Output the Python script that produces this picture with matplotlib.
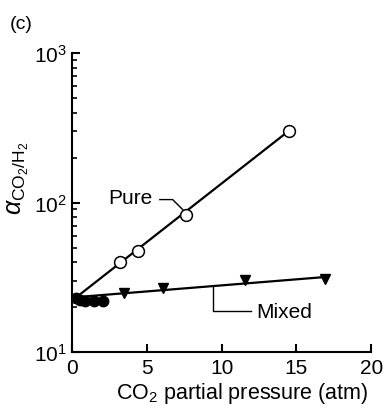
import matplotlib
matplotlib.use('Agg')
import matplotlib.pyplot as plt
import numpy as np

plt.rcParams['font.family'] = ['Liberation Sans', 'DejaVu Sans']
plt.rcParams['mathtext.fontset'] = 'custom'
plt.rcParams['mathtext.rm'] = 'Liberation Sans'
plt.rcParams['mathtext.it'] = 'Liberation Sans:italic'
plt.rcParams['mathtext.default'] = 'regular'

# ── Data ──────────────────────────────────────────────────────────────────────
pure_x = [3.2, 4.4, 7.65, 14.5]
pure_y = [39.8, 47.3, 82.8, 302]
pure_fit_x = [0.3, 14.5]
pure_fit_y = [23.3, 302]

mixed_x = [3.5, 6.1, 11.6, 16.9]
mixed_y = [25.0, 27.0, 30.2, 31.0]
mixed_fit_x = [0.3, 17.0]
mixed_fit_y = [23.3, 31.8]

low_x = [0.3, 0.55, 0.85, 1.45, 2.1]
low_y = [23.0, 22.3, 22.0, 22.0, 22.0]

fig = plt.figure(figsize=(3.85, 4.10), dpi=100)
ax = fig.add_axes([0.187, 0.139, 0.777, 0.729])

ax.plot(pure_fit_x, pure_fit_y, color='black', lw=1.6, zorder=2)
ax.plot(mixed_fit_x, mixed_fit_y, color='black', lw=1.6, zorder=2)
ax.plot(pure_x, pure_y, 'o', ms=8.5, mfc='white', mec='black', mew=1.1, zorder=3)
ax.plot(mixed_x, mixed_y, 'v', ms=7.5, color='black', zorder=3)
ax.plot(low_x, low_y, 'o', ms=7.5, color='black', zorder=3)

# leader lines
ax.plot([5.87, 6.73, 7.4], [104.7, 104.7, 89.8], color='black', lw=1.0)
ax.text(5.4, 108, 'Pure', ha='right', va='center', fontsize=15)
ax.plot([12.0, 9.4, 9.4], [18.8, 18.8, 27.3], color='black', lw=1.0)
ax.text(12.3, 18.8, 'Mixed', ha='left', va='center', fontsize=15)

ax.set_yscale('log')
ax.set_xlim(0, 20)
ax.set_ylim(10, 1000)
ax.set_xticks([0, 5, 10, 15, 20])

for s in ['top', 'right']:
    ax.spines[s].set_visible(False)
for s in ['left', 'bottom']:
    ax.spines[s].set_linewidth(1.5)

ax.tick_params(which='major', direction='in', length=6, width=1.5, labelsize=15, pad=4)
ax.tick_params(which='minor', direction='in', length=3.5, width=1.2)
ax.tick_params(axis='x', which='minor', bottom=False)

ax.set_xlabel(r'CO$_2$ partial pressure (atm)', fontsize=15.5)
ax.xaxis.set_label_coords(0.57, -0.095)
ax.set_ylabel(r'$\mathit{\alpha}_{\mathrm{CO_2/H_2}}$', fontsize=18, va='center')
ax.yaxis.set_label_coords(-0.178, 0.585)

fig.text(0.026, 0.94, '(c)', fontsize=14, ha='left', va='center')

fig.savefig('out.png', dpi=100)
